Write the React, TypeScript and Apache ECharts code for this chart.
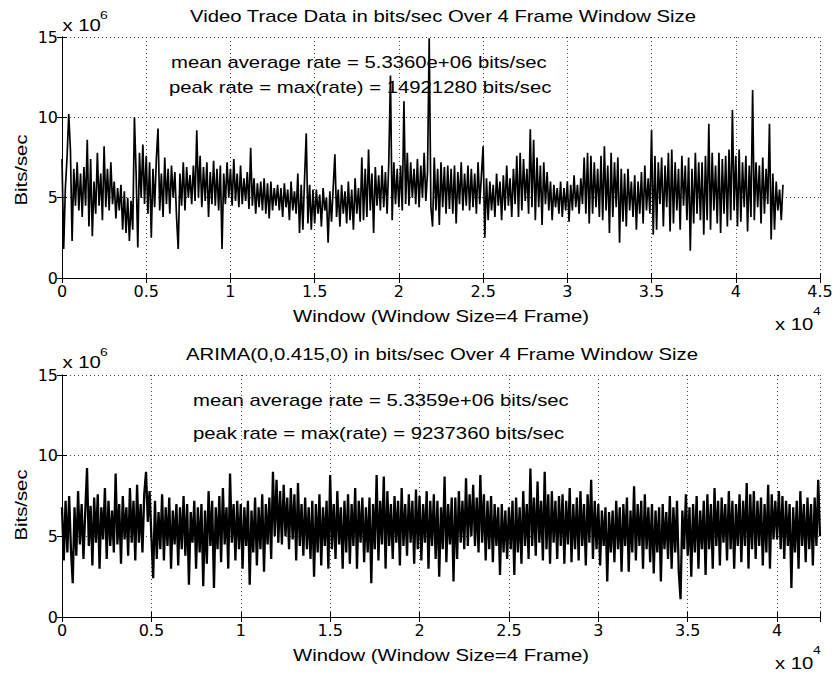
import React, { useEffect, useRef } from "react";
import * as echarts from "echarts";

// window index step between consecutive readings
const WINDOW_STEP = 100;

// Video trace rate, x10^6 bits/sec, one row per 1000 windows
const traceRate = [
  7.4, 1.8, 5.6, 7.5, 10.2, 8.0, 2.3, 6.8, 4.5, 7.2,
  4.2, 6.5, 3.8, 6.9, 4.5, 8.6, 3.2, 7.4, 2.6, 6.0,
  4.0, 7.8, 4.5, 6.5, 3.6, 8.2, 4.4, 6.8, 4.2, 7.2,
  4.6, 6.0, 3.7, 5.6, 4.2, 5.8, 3.0, 5.4, 2.8, 5.0,
  2.3, 4.8, 3.0, 10.0, 6.5, 1.9, 7.8, 5.0, 8.3, 4.6,
  7.6, 4.0, 7.2, 2.5, 6.8, 4.4, 7.4, 9.3, 4.2, 6.5,
  3.8, 7.5, 4.6, 6.8, 4.0, 7.0, 5.0, 6.6, 3.8, 1.8,
  6.5, 4.5, 7.2, 4.2, 6.9, 5.0, 6.4, 4.6, 7.0, 4.8,
  9.2, 5.0, 7.6, 4.4, 6.9, 4.8, 7.2, 3.8, 6.6, 4.6,
  7.3, 4.5, 6.8, 4.2, 7.0, 1.8, 6.5, 4.6, 7.2, 5.0,
  6.8, 4.5, 7.4, 4.8, 6.5, 4.4, 7.0, 4.6, 6.2, 4.8,
  6.6, 4.3, 8.1, 4.5, 6.2, 4.0, 5.9, 4.4, 6.0, 4.2,
  6.2, 4.0, 5.9, 3.7, 6.0, 4.2, 5.6, 4.5, 5.8, 4.2,
  5.6, 3.8, 5.9, 4.4, 5.5, 3.6, 6.0, 4.2, 5.4, 4.0,
  6.5, 2.8, 5.8, 3.0, 6.2, 9.0, 3.4, 5.8, 3.0, 5.5,
  3.4, 5.5, 4.0, 5.2, 3.2, 5.6, 4.2, 5.0, 2.2, 5.4,
  3.5, 5.6, 7.7, 3.8, 5.5, 3.2, 5.8, 4.0, 5.4, 3.4,
  6.0, 3.6, 5.5, 3.0, 6.2, 4.0, 5.6, 3.5, 7.5, 3.6,
  6.8, 3.8, 8.0, 4.2, 6.5, 2.8, 6.9, 4.5, 6.4, 4.2,
  7.0, 4.4, 6.6, 4.0, 7.2, 12.6, 3.6, 7.2, 4.6, 6.8,
  4.4, 7.0, 4.2, 11.0, 4.6, 7.8, 4.5, 7.2, 5.0, 6.8,
  4.6, 7.4, 4.4, 7.0, 5.0, 7.8, 4.8, 6.6, 14.92128, 4.4,
  3.2, 7.5, 4.2, 6.8, 3.3, 7.2, 4.4, 6.9, 4.0, 7.0,
  4.3, 6.8, 4.0, 7.0, 3.4, 6.6, 4.6, 7.2, 4.2, 6.5,
  4.5, 7.0, 4.2, 6.8, 4.4, 6.5, 4.0, 7.2, 4.6, 6.4,
  8.2, 2.5, 6.2, 3.6, 6.0, 4.2, 5.8, 3.8, 6.5, 4.5,
  6.0, 3.6, 6.4, 4.2, 7.0, 4.5, 6.2, 3.8, 6.8, 4.6,
  7.6, 3.8, 7.8, 4.2, 7.4, 4.8, 6.8, 4.0, 9.25, 4.4,
  8.6, 3.6, 7.5, 4.4, 7.0, 3.3, 7.2, 4.6, 6.6, 4.2,
  6.0, 3.6, 5.8, 4.4, 5.6, 4.0, 6.0, 3.8, 5.6, 4.2,
  6.0, 3.5, 5.8, 4.2, 6.4, 4.4, 5.8, 4.0, 6.2, 4.6,
  7.5, 4.0, 7.8, 3.4, 7.6, 4.0, 7.2, 4.4, 6.8, 3.8,
  7.6, 3.6, 8.2, 4.2, 7.0, 2.8, 7.8, 3.8, 7.2, 4.4,
  7.5, 2.2, 6.8, 3.5, 6.5, 3.2, 6.8, 4.2, 6.0, 3.8,
  6.4, 3.0, 6.0, 4.0, 6.6, 3.4, 7.0, 4.2, 6.2, 4.0,
  9.2, 2.7, 7.6, 3.0, 7.2, 4.6, 7.5, 3.2, 7.0, 4.4,
  7.8, 2.9, 8.0, 3.4, 7.2, 4.2, 6.8, 3.0, 7.6, 4.5,
  7.0, 3.6, 7.5, 1.7, 6.8, 3.4, 7.8, 4.0, 7.2, 3.6,
  7.2, 2.7, 7.6, 3.6, 9.6, 3.0, 7.8, 4.2, 7.0, 3.4,
  7.8, 2.8, 7.4, 4.0, 7.6, 3.2, 8.0, 3.6, 10.45, 4.2,
  7.6, 3.2, 8.0, 3.5, 7.2, 4.4, 7.6, 2.9, 7.0, 3.8,
  11.7, 3.6, 7.2, 4.4, 7.0, 3.4, 7.5, 4.0, 6.8, 4.6,
  9.6, 2.4, 6.5, 3.0, 6.0, 4.2, 5.5, 3.6, 5.8,
];

// ARIMA(0,0.415,0) synthetic rate, x10^6 bits/sec, one row per 1000 windows
const arimaRate = [
  6.8, 3.5, 7.2, 4.0, 7.5, 4.2, 2.1, 6.8, 3.8, 7.8,
  4.5, 7.0, 3.6, 6.5, 9.23736, 4.4, 6.9, 3.2, 7.4, 4.6,
  7.6, 3.0, 6.8, 4.8, 8.0, 3.6, 7.2, 4.4, 6.6, 4.0,
  8.9, 4.5, 7.0, 3.3, 7.5, 4.8, 6.8, 3.8, 8.0, 4.6,
  7.2, 3.5, 8.2, 4.6, 7.0, 4.0, 7.6, 9.0, 5.9, 7.8,
  5.0, 2.4, 7.2, 3.6, 6.5, 4.2, 7.6, 3.5, 6.8, 4.4,
  7.4, 3.0, 6.6, 4.5, 7.0, 3.2, 6.8, 4.2, 7.5, 3.8,
  7.0, 2.0, 6.5, 4.6, 7.2, 3.0, 6.8, 4.0, 7.0, 1.9,
  6.6, 3.3, 7.8, 4.4, 7.2, 1.8, 6.8, 4.2, 7.5, 3.4,
  8.0, 4.5, 6.8, 3.0, 8.9, 4.6, 7.0, 3.5, 7.2, 4.2,
  7.0, 3.0, 6.8, 4.4, 7.2, 2.0, 6.6, 4.0, 7.4, 3.2,
  6.8, 4.2, 7.6, 2.8, 7.0, 4.5, 7.4, 3.6, 9.0, 5.0,
  8.5, 4.6, 7.8, 4.5, 8.2, 5.0, 7.4, 4.2, 8.0, 4.8,
  7.6, 3.5, 8.3, 4.4, 7.0, 3.8, 7.4, 4.2, 6.8, 3.6,
  7.2, 2.5, 7.0, 4.0, 7.6, 3.2, 6.8, 4.4, 7.2, 3.0,
  8.8, 4.2, 7.0, 3.6, 7.8, 4.5, 6.8, 3.0, 7.2, 4.0,
  7.6, 3.3, 7.0, 4.4, 8.0, 3.0, 7.2, 4.6, 7.4, 3.4,
  6.8, 4.0, 7.4, 2.1, 7.0, 4.2, 8.8, 3.5, 7.2, 4.5,
  8.7, 3.0, 7.8, 4.4, 7.0, 3.6, 7.5, 4.6, 7.2, 3.2,
  8.0, 4.4, 7.0, 3.8, 7.6, 4.6, 7.2, 3.3, 7.9, 4.2,
  7.5, 3.5, 7.0, 4.6, 7.8, 3.0, 7.2, 4.4, 7.6, 3.6,
  7.2, 2.5, 6.8, 4.2, 8.7, 3.4, 7.0, 4.5, 7.4, 2.2,
  7.4, 3.6, 7.8, 4.6, 7.2, 4.2, 8.6, 4.4, 7.6, 5.0,
  8.2, 4.4, 7.4, 4.0, 8.8, 4.6, 7.6, 3.5, 7.2, 4.2,
  7.5, 3.4, 7.0, 4.4, 6.8, 2.6, 7.0, 4.0, 6.6, 3.6,
  6.8, 4.2, 7.2, 2.6, 7.4, 4.0, 6.8, 3.3, 7.8, 4.4,
  7.0, 3.6, 9.2, 4.4, 7.4, 3.8, 8.4, 4.6, 7.2, 3.5,
  9.0, 4.2, 7.6, 3.3, 7.8, 4.6, 7.2, 3.6, 7.5, 4.4,
  7.6, 3.3, 7.2, 4.5, 8.0, 3.4, 7.0, 4.2, 7.4, 3.5,
  7.8, 4.4, 7.0, 3.2, 7.6, 4.6, 8.5, 3.6, 7.2, 4.2,
  7.0, 3.2, 6.6, 4.4, 6.8, 2.2, 6.5, 4.0, 6.6, 3.4,
  7.2, 4.2, 6.8, 2.8, 7.0, 4.4, 7.4, 2.8, 6.6, 4.0,
  8.1, 3.5, 7.0, 4.4, 7.2, 3.0, 7.6, 4.2, 6.8, 3.4,
  7.0, 2.7, 6.6, 4.0, 6.8, 2.2, 7.0, 4.2, 6.5, 3.6,
  7.5, 3.0, 6.8, 4.0, 7.2, 2.8, 1.1, 6.6, 4.2, 7.6,
  3.8, 6.8, 2.5, 7.0, 4.0, 7.5, 3.0, 6.6, 4.2, 7.2,
  2.6, 7.6, 4.2, 7.0, 3.0, 8.0, 4.4, 7.2, 3.2, 7.4,
  4.6, 7.0, 3.5, 7.8, 4.2, 7.2, 3.0, 7.0, 4.4, 7.6,
  3.4, 7.2, 4.4, 8.3, 3.0, 7.6, 4.2, 7.8, 3.6, 7.2,
  4.4, 7.4, 3.2, 7.0, 4.0, 8.2, 3.0, 7.6, 4.8, 7.2,
  4.8, 7.8, 4.2, 7.5, 3.6, 7.2, 4.4, 7.0, 1.8, 6.8,
  4.0, 7.2, 3.0, 7.8, 4.4, 7.0, 3.4, 7.4, 4.2, 7.0,
  3.2, 7.4, 4.4, 8.5, 5.0,
];

const yTicks = [0, 5, 10, 15];
const xTickStep = 5000;
const topXMax = 45000;
const bottomXMax = 42400;

const topTitle = "Video Trace Data in bits/sec Over 4 Frame Window Size";
const bottomTitle = "ARIMA(0,0.415,0) in bits/sec Over 4 Frame Window Size";
const topStats = [
  "mean average rate = 5.3360e+06 bits/sec",
  "peak rate = max(rate) = 14921280 bits/sec",
];
const bottomStats = [
  "mean average rate = 5.3359e+06 bits/sec",
  "peak rate = max(rate) = 9237360 bits/sec",
];
const xName = "Window (Window Size=4 Frame)";
const yName = "Bits/sec";

const SX = 1.27;
const FONT = '16px "Liberation Sans", Arial, Helvetica, sans-serif';
const SUPFONT = '11px "Liberation Sans", Arial, Helvetica, sans-serif';
const TICKFONT = "DejaVu Sans";

function txt(text: string, x: number, y: number, align = "left", font = FONT, rotation = 0) {
  return {
    type: "text",
    x,
    y,
    scaleX: SX,
    rotation,
    silent: true,
    style: {
      text,
      font,
      fill: "#000",
      textAlign: align,
      textVerticalAlign: "middle",
    },
  };
}

const GRIDS = [
  { left: 62, top: 37, width: 758, height: 241 },
  { left: 62, top: 375, width: 758, height: 242 },
];

function xAxes(gridIndex: number, max: number) {
  const common = {
    type: "value",
    gridIndex,
    min: 0,
    max,
    interval: xTickStep,
    axisLine: { show: true, lineStyle: { color: "#000", width: 1 } },
    axisTick: { show: true, inside: true, length: 5, lineStyle: { color: "#000" } },
  };
  return [
    {
      ...common,
      position: "bottom",
      axisLabel: {
        show: true,
        color: "#000",
        fontFamily: TICKFONT,
        fontSize: 16,
        margin: 5,
        formatter: (v: number) => (v % xTickStep === 0 ? String(v / 1e4) : ""),
      },
      splitLine: { show: true, lineStyle: { color: "#444", width: 1, type: [1, 3] } },
    },
    {
      ...common,
      position: "top",
      axisLabel: { show: false },
      splitLine: { show: false },
    },
  ];
}

function yAxes(gridIndex: number) {
  const common = {
    type: "value",
    gridIndex,
    min: yTicks[0],
    max: yTicks[yTicks.length - 1],
    interval: yTicks[1] - yTicks[0],
    axisLine: { show: true, lineStyle: { color: "#000", width: 1 } },
    axisTick: { show: true, inside: true, length: 5, lineStyle: { color: "#000" } },
  };
  return [
    {
      ...common,
      position: "left",
      axisLabel: {
        show: true,
        color: "#000",
        fontFamily: TICKFONT,
        fontSize: 16,
        margin: 4,
      },
      splitLine: { show: true, lineStyle: { color: "#444", width: 1, type: [1, 3] } },
    },
    {
      ...common,
      position: "right",
      axisLabel: { show: false },
      splitLine: { show: false },
    },
  ];
}

export default function App() {
  const ref = useRef<HTMLDivElement>(null);
  useEffect(() => {
    if (!ref.current) return;
    const chart = echarts.init(ref.current, undefined, { renderer: "svg" });
    const topData = traceRate.map((v, i) => [i * WINDOW_STEP, v]);
    const bottomData = arimaRate.map((v, i) => [i * WINDOW_STEP, v]);
    const dy = 338;
    chart.setOption({
      animation: false,
      backgroundColor: "#fff",
      grid: GRIDS,
      xAxis: [...xAxes(0, topXMax), ...xAxes(1, bottomXMax)],
      yAxis: [...yAxes(0), ...yAxes(1)],
      series: [
        {
          type: "line",
          xAxisIndex: 0,
          yAxisIndex: 0,
          data: topData,
          showSymbol: false,
          symbol: "none",
          silent: true,
          lineStyle: { color: "#000", width: 1.7, join: "miter", miterLimit: 2 },
        },
        {
          type: "line",
          xAxisIndex: 2,
          yAxisIndex: 2,
          data: bottomData,
          showSymbol: false,
          symbol: "none",
          silent: true,
          lineStyle: { color: "#000", width: 2.3, join: "miter", miterLimit: 2 },
        },
      ],
      graphic: [
        txt(topTitle, 443, 16, "center"),
        txt(bottomTitle, 442, 16 + dy, "center"),
        txt(topStats[0], 171, 62),
        txt(topStats[1], 169, 87),
        txt(bottomStats[0], 193, 400),
        txt(bottomStats[1], 193, 433),
        txt(xName, 441, 316, "center"),
        txt(xName, 441, 655, "center"),
        txt("x 10", 775, 324),
        txt("4", 813, 312, "left", SUPFONT),
        txt("x 10", 775, 663),
        txt("4", 813, 651, "left", SUPFONT),
        txt("x 10", 62.5, 25),
        txt("6", 100, 16, "left", SUPFONT),
        txt("x 10", 62.5, 362),
        txt("6", 100, 353, "left", SUPFONT),
        txt(yName, 21, 170, "center", FONT, Math.PI / 2),
        txt(yName, 21, 505, "center", FONT, Math.PI / 2),
      ],
    });
    return () => chart.dispose();
  }, []);
  return (
    <div
      ref={ref}
      style={{ position: "absolute", left: 0, top: 0, width: 836, height: 674, background: "#fff" }}
    />
  );
}
